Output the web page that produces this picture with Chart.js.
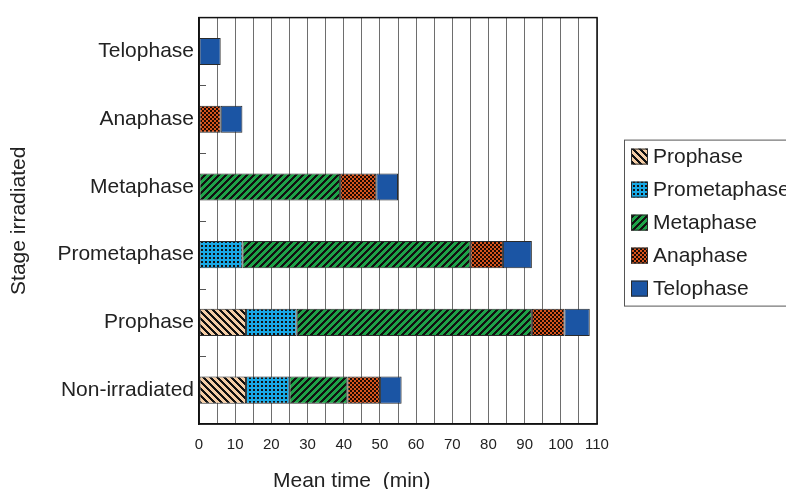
<!DOCTYPE html>
<html>
<head>
<meta charset="utf-8">
<script src="https://cdn.jsdelivr.net/npm/chart.js@4.4.1/dist/chart.umd.min.js"></script>
<style>
  html, body { margin: 0; padding: 0; background: #fff; }
  #wrap { width: 786px; height: 489px; }
</style>
</head>
<body>
<div id="wrap"><canvas id="c" width="786" height="489"></canvas></div>
<script>
// Stage at which cells were irradiated (top to bottom)
const stagesIrradiated = ['Telophase', 'Anaphase', 'Metaphase', 'Prometaphase', 'Prophase', 'Non-irradiated'];

// Mean duration (min) of each mitotic phase after irradiation
const prophaseMin     = [null, null, null, null, 13, 13];
const prometaphaseMin = [null, null, null, 12, 14, 12];
const metaphaseMin    = [null, null, 39, 63, 65, 16];
const anaphaseMin     = [null, 6, 10, 9, 9, 9];
const telophaseMin    = [6, 6, 6, 8, 7, 6];

// Labelled ticks on the time axis
const timeTicks = [0, 10, 20, 30, 40, 50, 60, 70, 80, 90, 100, 110];

const FONT = '"Liberation Sans", Arial, Helvetica, sans-serif';
const TEXT = '#222';

// Build a repeating fill from a per-pixel rule on a small square tile
function pixelTile(size, colorAt) {
  const cv = document.createElement('canvas');
  cv.width = size; cv.height = size;
  const g = cv.getContext('2d');
  for (let y = 0; y < size; y++) {
    for (let x = 0; x < size; x++) {
      g.fillStyle = colorAt(x, y);
      g.fillRect(x, y, 1, 1);
    }
  }
  return document.createElement('canvas').getContext('2d').createPattern(cv, 'repeat');
}

const INK = '#111';
const fills = {
  // "\" hatching on peach
  prophase: pixelTile(7, (x, y) => (((x - y) % 7) + 7) % 7 < 3 ? INK : '#f4cda6'),
  // dot screen on cyan
  prometaphase: pixelTile(4, (x, y) => (x >= 1 && x <= 2 && y >= 1 && y <= 2) ? INK : '#18a8e4'),
  // "/" hatching on green
  metaphase: pixelTile(7, (x, y) => (x + y) % 7 < 3 ? INK : '#1ea248'),
  // fine checker on orange
  anaphase: pixelTile(4, (x, y) => ((x >> 1) + (y >> 1)) % 2 === 0 ? '#1a0a04' : '#d8541c'),
  telophase: '#1b55a4'
};

function ds(label, data, fill) {
  return {
    label, data,
    backgroundColor: fill,
    borderColor: '#2a2a2a',
    borderWidth: 1,
    borderSkipped: false,
    barPercentage: 0.4,
    categoryPercentage: 1.0
  };
}

// Frame, inward category ticks, x title and boxed legend
const decorations = {
  id: 'decorations',
  afterDraw(chart) {
    const { ctx, chartArea: a, scales } = chart;
    const y = scales.y;
    ctx.save();
    // inward ticks between categories
    ctx.strokeStyle = '#555'; ctx.lineWidth = 1;
    for (let i = 0; i < stagesIrradiated.length - 1; i++) {
      const py = Math.round((y.getPixelForValue(i) + y.getPixelForValue(i + 1)) / 2) + 0.5;
      ctx.beginPath(); ctx.moveTo(a.left, py); ctx.lineTo(a.left + 7, py); ctx.stroke();
    }
    // plot frame
    ctx.strokeStyle = '#111'; ctx.lineWidth = 1.5;
    ctx.strokeRect(a.left, a.top, a.right - a.left, a.bottom - a.top);
    // x-axis title
    ctx.fillStyle = TEXT;
    ctx.font = '21px ' + FONT;
    ctx.textAlign = 'left'; ctx.textBaseline = 'alphabetic';
    ctx.fillText('Mean time  (min)', a.left + 74, 487);
    // legend
    const lx = a.right + 27, ly = a.top + 122;
    ctx.strokeStyle = '#555'; ctx.lineWidth = 1;
    ctx.strokeRect(lx + 0.5, ly + 0.5, 200, 166);
    ctx.textBaseline = 'middle';
    chart.data.datasets.forEach((d, i) => {
      const cy = ly + 17 + i * 33;
      ctx.fillStyle = d.backgroundColor;
      ctx.fillRect(lx + 7, cy - 8, 17, 16);
      ctx.strokeStyle = '#2a2a2a';
      ctx.strokeRect(lx + 7.5, cy - 7.5, 16, 15);
      ctx.fillStyle = TEXT;
      ctx.fillText(d.label, lx + 29, cy + 1);
    });
    ctx.restore();
  }
};

new Chart(document.getElementById('c'), {
  type: 'bar',
  data: {
    labels: stagesIrradiated,
    datasets: [
      ds('Prophase', prophaseMin, fills.prophase),
      ds('Prometaphase', prometaphaseMin, fills.prometaphase),
      ds('Metaphase', metaphaseMin, fills.metaphase),
      ds('Anaphase', anaphaseMin, fills.anaphase),
      ds('Telophase', telophaseMin, fills.telophase)
    ]
  },
  options: {
    indexAxis: 'y',
    responsive: false,
    animation: false,
    devicePixelRatio: 1,
    layout: { padding: { left: 0, right: 189, top: 16, bottom: 0 } },
    plugins: { legend: { display: false }, tooltip: { enabled: false } },
    scales: {
      x: {
        stacked: true,
        min: 0, max: 110,
        afterFit(s) { s.height = 65; },
        grid: { color: '#6e6e6e', lineWidth: 1, drawTicks: false },
        border: { display: true, color: '#111', width: 1.5 },
        ticks: {
          stepSize: 5,
          autoSkip: false,
          maxRotation: 0,
          padding: 12,
          color: TEXT,
          font: { family: FONT, size: 15 },
          callback: v => timeTicks.includes(v) ? String(v) : ''
        }
      },
      y: {
        stacked: true,
        afterFit(s) { s.width = 199; },
        grid: { display: false, drawTicks: false },
        border: { display: true, color: '#111', width: 1.5 },
        ticks: { padding: 5, color: TEXT, font: { family: FONT, size: 21 } },
        title: {
          display: true,
          text: 'Stage irradiated',
          color: TEXT,
          font: { family: FONT, size: 21 },
          padding: { top: 7, bottom: 0 }
        }
      }
    }
  },
  plugins: [decorations]
});
</script>
</body>
</html>
